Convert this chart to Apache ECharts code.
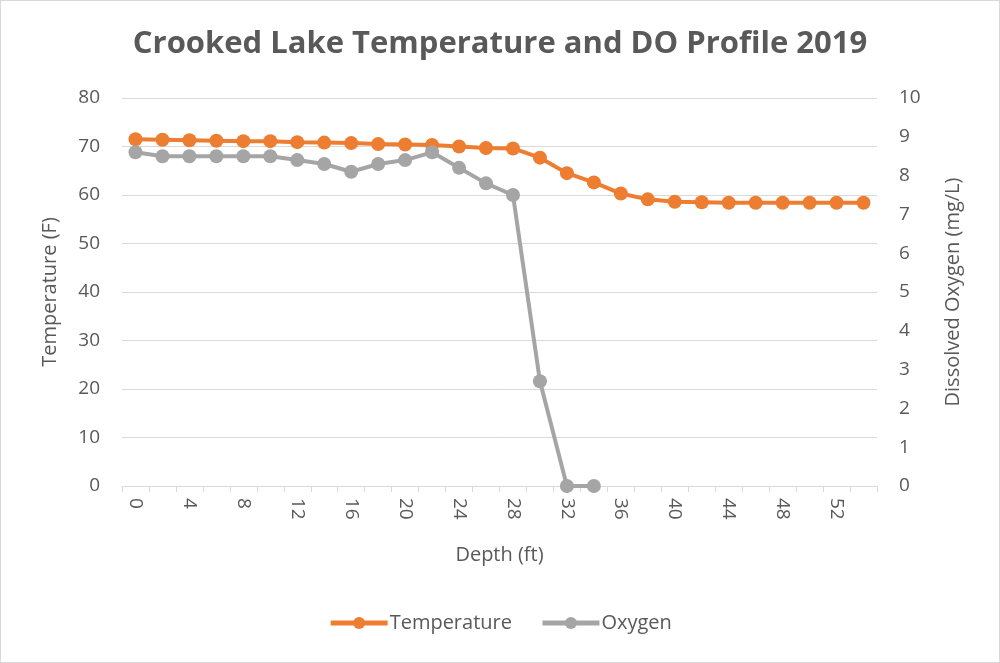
<!DOCTYPE html>
<html>
<head>
<meta charset="utf-8">
<script src="https://cdn.jsdelivr.net/npm/echarts@6/dist/echarts.min.js"></script>
<style>
html, body { margin: 0; padding: 0; background: #fff; }
#chart { width: 998px; height: 661px; border: 1px solid #d9d9d9; }
</style>
</head>
<body>
<div id="chart"></div>
<script>
var depth = [0, 2, 4, 6, 8, 10, 12, 14, 16, 18, 20, 22, 24, 26, 28, 30, 32, 34, 36, 38, 40, 42, 44, 46, 48, 50, 52, 54];
var temperature = [71.5, 71.4, 71.3, 71.2, 71.1, 71.1, 70.9, 70.8, 70.7, 70.5, 70.4, 70.3, 70.0, 69.7, 69.6, 67.7, 64.5, 62.6, 60.3, 59.1, 58.6, 58.5, 58.4, 58.4, 58.4, 58.4, 58.4, 58.4];
var oxygen = [8.6, 8.5, 8.5, 8.5, 8.5, 8.5, 8.4, 8.3, 8.1, 8.3, 8.4, 8.6, 8.2, 7.8, 7.5, 2.7, 0, 0];

var myChart = echarts.init(document.getElementById('chart'));
var textColor = '#595959';
var fontFam = '"Open Sans", sans-serif';

option = {
	color: ['#ed7d31', '#a5a5a5'],
	title: {
		text: 'Crooked Lake Temperature and DO Profile 2019',
		left: 'center',
		top: 23,
		textStyle: {
			color: textColor,
			fontSize: 31,
			fontWeight: 'bold',
			fontFamily: fontFam
		}
	},
	legend: {
		data: ['Temperature', 'Oxygen'],
		bottom: 24,
		left: 'center',
		itemWidth: 57,
		itemHeight: 15,
		itemGap: 28,
		lineStyle: { width: 5 },
		textStyle: { color: textColor, fontSize: 20, fontFamily: fontFam, padding: [0, 0, 0, -3] }
	},
	grid: { left: 121, right: 122, top: 97, bottom: 176 },
	xAxis: {
		type: 'category',
		data: depth,
		boundaryGap: true,
		name: 'Depth (ft)',
		nameLocation: 'middle',
		nameGap: 59,
		nameTextStyle: { color: textColor, fontSize: 20, fontFamily: fontFam },
		axisLine: { lineStyle: { color: '#d9d9d9', width: 1 } },
		axisTick: { show: true, interval: 0, length: 6, lineStyle: { color: '#d9d9d9' } },
		axisLabel: {
			interval: 1,
			rotate: -90,
			color: textColor,
			fontSize: 19,
			fontFamily: fontFam,
			margin: 12
		},
		splitLine: { show: false }
	},
	yAxis: [{
		type: 'value',
		min: 0,
		max: 80,
		interval: 10,
		name: 'Temperature (F)',
		nameLocation: 'middle',
		nameGap: 62,
		nameTextStyle: { color: textColor, fontSize: 20, fontFamily: fontFam },
		axisLine: { show: false },
		axisTick: { show: false },
		axisLabel: { color: textColor, fontSize: 19, fontFamily: fontFam, margin: 22 },
		splitLine: { lineStyle: { color: '#d9d9d9', width: 1 } }
	}, {
		type: 'value',
		min: 0,
		max: 10,
		interval: 1,
		name: 'Dissolved Oxygen (mg/L)',
		nameLocation: 'middle',
		nameGap: 66,
		nameRotate: 90,
		nameTextStyle: { color: textColor, fontSize: 20, fontFamily: fontFam },
		axisLine: { show: false },
		axisTick: { show: false },
		axisLabel: { color: textColor, fontSize: 19, fontFamily: fontFam, margin: 22 },
		splitLine: { show: false }
	}],
	series: [{
		name: 'Temperature',
		type: 'line',
		yAxisIndex: 0,
		data: temperature,
		symbol: 'circle',
		symbolSize: 14,
		lineStyle: { width: 4 },
		itemStyle: { color: '#ed7d31' }
	}, {
		name: 'Oxygen',
		type: 'line',
		yAxisIndex: 1,
		data: oxygen,
		symbol: 'circle',
		symbolSize: 14,
		lineStyle: { width: 4 },
		itemStyle: { color: '#a5a5a5' }
	}]
};
myChart.setOption(option);
</script>
</body>
</html>
